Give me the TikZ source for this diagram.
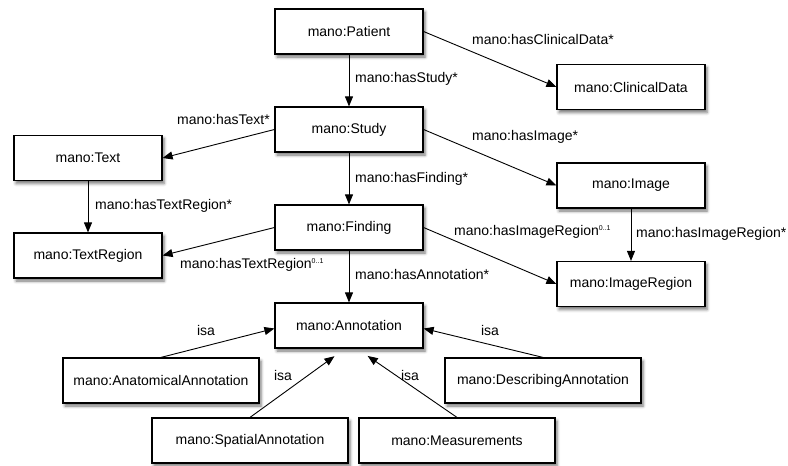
\documentclass[tikz,border=0pt]{standalone}
\usepackage{fontspec}
\setmainfont{Liberation Sans}
\usetikzlibrary{arrows.meta,shadows.blur}
\begin{document}
\begin{tikzpicture}[x=1pt,y=-1pt,
  font=\fontsize{14}{16}\selectfont,
  cls/.style={draw=black, line width=1.2pt, fill=white, inner sep=0pt,
    minimum width=148pt, minimum height=45pt,
    blur shadow={shadow xshift=2pt, shadow yshift=-3pt,
      shadow blur radius=3pt, shadow opacity=55}},
  rel/.style={draw=black, line width=0.9pt,
    -{Triangle[length=10pt,width=8pt]}},
  lbl/.style={inner sep=0pt}]
\useasboundingbox (0,0) rectangle (788,466);
\newcommand{\card}{\raisebox{5pt}{\fontsize{7}{8}\selectfont 0..1}}

% classes
\node[cls] (pat)  at (349,31.5)  {mano:Patient};
\node[cls] (cd)   at (631,87)    {mano:ClinicalData};
\node[cls] (stu)  at (349,129.5) {mano:Study};
\node[cls] (txt)  at (88,158)    {mano:Text};
\node[cls] (img)  at (631,185.5) {mano:Image};
\node[cls] (fin)  at (349,227.5) {mano:Finding};
\node[cls] (tr)   at (88,255.5)  {mano:TextRegion};
\node[cls] (ir)   at (631,284)   {mano:ImageRegion};
\node[cls] (ann)  at (349,325.5) {mano:Annotation};
\node[cls, minimum width=196pt] (ana)  at (161,380.5) {mano:AnatomicalAnnotation};
\node[cls, minimum width=196pt] (desc) at (543,380.5) {mano:DescribingAnnotation};
\node[cls, minimum width=196pt] (sp)   at (250,440.5) {mano:SpatialAnnotation};
\node[cls, minimum width=196pt] (me)   at (457,440.5) {mano:Measurements};

% properties
\draw[rel] (pat) -- (stu);
\draw[rel] (pat.east) -- (cd.west);
\draw[rel] (stu.west) -- (txt.east);
\draw[rel] (stu.east) -- (img.west);
\draw[rel] (stu) -- (fin);
\draw[rel] (txt) -- (tr);
\draw[rel] (fin.west) -- (tr.east);
\draw[rel] (fin.east) -- (ir.west);
\draw[rel] (img) -- (ir);
\draw[rel] (fin) -- (ann);

% subclass links
\draw[rel] (ana.north) -- ([yshift=-3pt]ann.west);
\draw[rel] (desc.north) -- ([yshift=-3pt]ann.east);
\draw[rel, shorten >=13pt] (sp.north) -- ([xshift=-4pt]ann.south);
\draw[rel, shorten >=13pt] (me.north) -- ([xshift=8pt]ann.south);

% property labels
\node[lbl, anchor=mid west] (l1) at (472,42)  {mano:hasClinicalData*};
\node[lbl, anchor=mid west] (l2) at (355,80)  {mano:hasStudy*};
\node[lbl, anchor=mid east] (l3) at (270,122) {mano:hasText*};
\node[lbl, anchor=mid west] (l4) at (472,138) {mano:hasImage*};
\node[lbl, anchor=mid west] (l5) at (355,180) {mano:hasFinding*};
\node[lbl, anchor=mid west] (l6) at (95,207)  {mano:hasTextRegion*};
\node[lbl, anchor=mid west] (l7) at (180,266) {mano:hasTextRegion\card};
\node[lbl, anchor=mid west] (l8) at (454,233) {mano:hasImageRegion\card};
\node[lbl, anchor=mid west] (l9) at (636,235) {mano:hasImageRegion*};
\node[lbl, anchor=mid west] (l10) at (355,277) {mano:hasAnnotation*};

% subclass labels
\node[lbl, anchor=mid] (i1) at (206,333) {isa};
\node[lbl, anchor=mid] (i2) at (490,333) {isa};
\node[lbl, anchor=mid] (i3) at (283,378) {isa};
\node[lbl, anchor=mid] (i4) at (410,378) {isa};
\end{tikzpicture}
\end{document}
